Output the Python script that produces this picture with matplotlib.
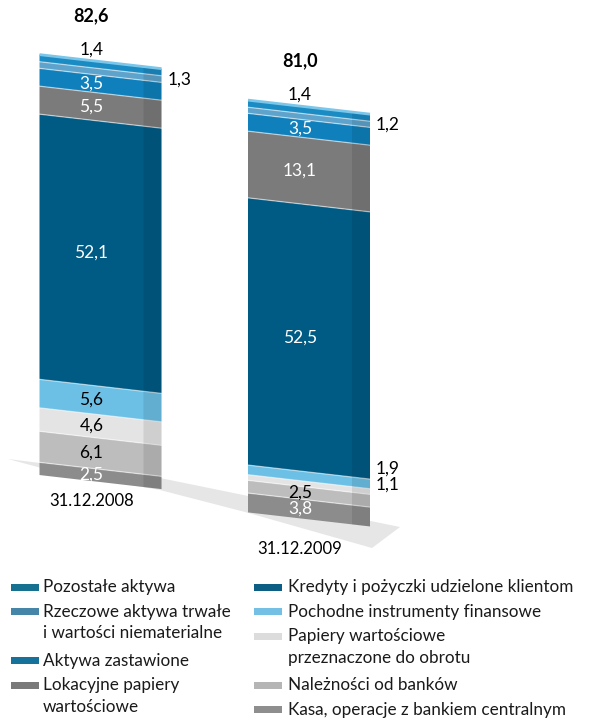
import numpy as np
import matplotlib
matplotlib.use("Agg")
import matplotlib.pyplot as plt
from matplotlib.transforms import Affine2D, IdentityTransform
from matplotlib.patches import Polygon, Rectangle

plt.rcParams['font.family'] = ['Lato', 'DejaVu Sans']

# ---------------- data ----------------
dates = ["31.12.2008", "31.12.2009"]
totals = ["82,6", "81,0"]
# stacked from bottom to top
categories = [
    "Kasa, operacje z bankiem centralnym",
    "Należności od banków",
    "Papiery wartościowe\nprzeznaczone do obrotu",
    "Pochodne instrumenty finansowe",
    "Kredyty i pożyczki udzielone klientom",
    "Lokacyjne papiery\nwartościowe",
    "Aktywa zastawione",
    "Rzeczowe aktywa trwałe\ni wartości niematerialne",
    "Pozostałe aktywa",
]
values_2008 = [2.5, 6.1, 4.6, 5.6, 52.1, 5.5, 3.5, 1.3, 1.4]
values_2009 = [3.8, 2.5, 1.1, 1.9, 52.5, 13.1, 3.5, 1.2, 1.4]
labels_2008 = ["2,5", "6,1", "4,6", "5,6", "52,1", "5,5", "3,5", "1,3", "1,4"]
labels_2009 = ["3,8", "2,5", "1,1", "1,9", "52,5", "13,1", "3,5", "1,2", "1,4"]

colors = ["#8c8c8c", "#bdbdbd", "#e4e4e4", "#6cc0e6", "#005b84",
          "#7b7b7b", "#0f80bb", "#5ea3cc", "#1b8bc4"]
legend_colors = ["#8e8e8e", "#b5b5b5", "#dcdcdc", "#74c0e4", "#0d5e84",
                 "#7a7a7a", "#16729a", "#4585a8", "#16708f"]
label_colors_2008 = ["white", "black", "black", "black", "white", "white", "white", "black", "black"]
label_colors_2009 = ["white", "black", "black", "black", "white", "white", "white", "black", "black"]
# label placement: 'in' inside segment, 'right' outside right, 'top' above bar
place_2008 = ["in", "in", "in", "in", "in", "in", "in", "right", "top"]
place_2009 = ["in", "in", "right", "right", "in", "in", "in", "right", "top"]
# extra vertical nudge of labels, in pixels (layout only)
nudge_2008 = [0, 0, 0, 0, 0, 0, 0, 0, 0]
nudge_2009 = [0, 0, 8, 16, 0, 0, 0, 0, 0]

# legend layout (column, row)
legend_pos = [(1, 5), (1, 4), (1, 2), (1, 1), (1, 0), (0, 4), (0, 3), (0, 1), (0, 0)]

# ---------------- figure ----------------
W, H = 592, 721
fig = plt.figure(figsize=(W / 100, H / 100), dpi=100)
ax = fig.add_axes([0, 0, 1, 1])
ax.set_axis_off()
ax.patch.set_visible(False)

px_per_x = 208.5
px_per_y = 5.09
ax.set_xlim(-100.5 / px_per_x, (W - 100.5) / px_per_x)
ax.set_ylim(-250.5 / px_per_y, (H - 250.5) / px_per_y)

slope = 0.115
shear = Affine2D().skew(0, np.arctan(-slope))
tr = ax.transData + shear

# floor shadow (decoration, in image pixel coords)
shadow_img = [(8, 459), (160, 478), (400, 527), (372, 548), (245, 512), (160, 490), (60, 473)]
shadow = Polygon([(x, H - y) for x, y in shadow_img], closed=True,
                 transform=IdentityTransform(), facecolor="#e6e6e6", edgecolor="none",
                 zorder=0.5, clip_on=False)
ax.add_patch(shadow)

bar_w = 122 / px_per_x
side_w = 18 / px_per_x
baselines = [0.0, -2.63]
date_offsets = [-4.0, -6.1]
series = [values_2008, values_2009]
lab_series = [labels_2008, labels_2009]
lab_cols = [label_colors_2008, label_colors_2009]
places = [place_2008, place_2009]
nudges = [nudge_2008, nudge_2009]

for i in range(2):
    vals = np.array(series[i])
    bottoms = baselines[i] + np.concatenate([[0], np.cumsum(vals)[:-1]])
    ax.bar([i] * len(vals), vals, width=bar_w, bottom=bottoms, color=colors,
           edgecolor="none", transform=tr, zorder=2, clip_on=False)
    # separator highlight lines
    for b in bottoms[1:]:
        ax.plot([i - bar_w / 2, i + bar_w / 2], [b, b], color="white", lw=0.9, alpha=0.55,
                transform=tr, zorder=3, clip_on=False)
    # side face shading
    ax.bar(i + bar_w / 2 - side_w / 2, vals.sum(), width=side_w, bottom=baselines[i],
           color="black", alpha=0.09, transform=tr, zorder=3, clip_on=False)
    top = baselines[i] + vals.sum()
    # top highlight
    ax.plot([i - bar_w / 2, i + bar_w / 2], [top, top], color="#7cc6ea", lw=2.0,
            transform=tr, zorder=3, clip_on=False, solid_capstyle="butt")
    xc = i - side_w / 2
    for j, (v, b) in enumerate(zip(vals, bottoms)):
        p = places[i][j]
        yy = b + v / 2 + nudges[i][j] / px_per_y
        if p == "in":
            ax.text(xc, yy, lab_series[i][j], color=lab_cols[i][j], ha="center",
                    va="center", fontsize=12.5, transform=tr, zorder=4)
        elif p == "right":
            ax.text(i + bar_w / 2 + 6 / px_per_x, yy, lab_series[i][j], color="black",
                    ha="left", va="center", fontsize=12.5, transform=tr, zorder=4)
        else:
            ax.text(xc, top + 2.2, lab_series[i][j], color="black", ha="center",
                    va="center", fontsize=12.5, transform=tr, zorder=4)
    # total
    ax.text(xc, top + 8.9, totals[i], color="black", ha="center", va="center",
            fontsize=13, fontweight="bold", transform=tr, zorder=4)
    # date label
    ax.text(xc, baselines[i] + date_offsets[i], dates[i], color="black", ha="center",
            va="center", fontsize=12, transform=tr, zorder=4)

# ---------------- legend ----------------
col_sw_x = [11, 254]
col_tx_x = [43, 288]
row0_y = 587
row_h = 24.5
for k, (c, r) in enumerate(legend_pos):
    y = row0_y + r * row_h
    fig.patches.append(Rectangle((col_sw_x[c], H - y - 3.5), 28, 7, transform=IdentityTransform(),
                                 facecolor=legend_colors[k], edgecolor="none"))
    fig.text(col_tx_x[c] / W, 1 - (y - 7.8) / H, categories[k], ha="left", va="top",
             fontsize=12.3, color="#1a1a1a", linespacing=1.42)

fig.savefig("out.png", dpi=100)
